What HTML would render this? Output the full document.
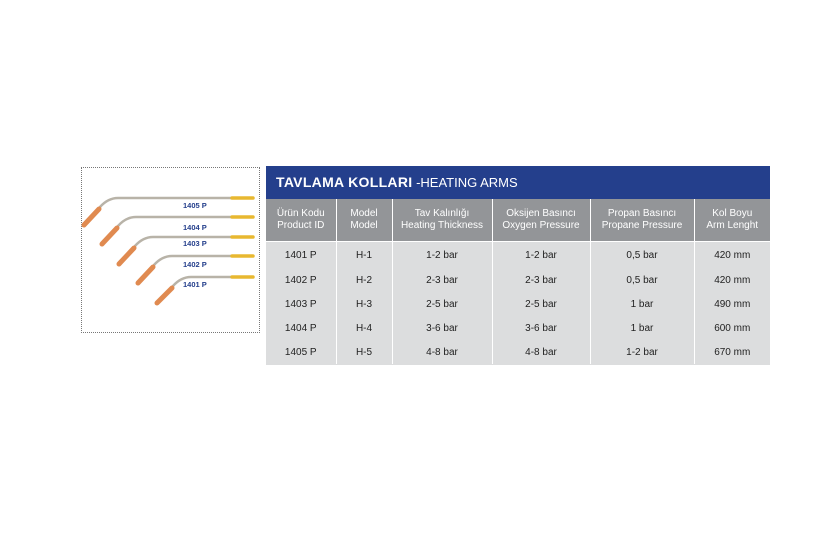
<!DOCTYPE html>
<html><head><meta charset="utf-8"><style>
body{margin:0;width:827px;height:557px;background:#fff;position:relative;font-family:"Liberation Sans",sans-serif;overflow:hidden}
.box{position:absolute;left:81px;top:167px;width:179px;height:166px;border:1px dotted #777;box-sizing:border-box}
.t{position:absolute;left:266px;top:166px;width:504px;height:199px;overflow:hidden;background:#dcddde}
.title{height:33px;background:#243f8c;color:#fff;line-height:33px;padding-left:10px;font-size:13px;box-sizing:border-box}
.title b{font-size:14px;letter-spacing:0.3px}
table{border-collapse:collapse;width:504px;table-layout:fixed}
th{background:#939598;color:#fff;font-weight:normal;font-size:10px;height:42px;border-left:1px solid #fff;border-bottom:1px solid #fff;line-height:12px;padding:0}
td{background:#dcddde;font-size:10px;text-align:center;height:24px;border-left:1px solid #fff;padding:0;color:#222}
tr>*:first-child{border-left:none}
</style></head><body>
<div class="box"></div>
<svg style="position:absolute;left:0;top:0" width="270" height="340">
<g font-family="Liberation Sans" font-size="7.5" font-weight="bold" fill="#243f8c">
<text x="183" y="208">1405 P</text><text x="183" y="230">1404 P</text><text x="183" y="246">1403 P</text><text x="183" y="267">1402 P</text><text x="183" y="287">1401 P</text>
</g>
<g stroke-linecap="round" fill="none">
<path d="M100 207 Q108 198 118 198 L232 198" stroke="#b8b3a8" stroke-width="2.5"/>
<path d="M118 226 Q126 217 136 217 L232 217" stroke="#b8b3a8" stroke-width="2.5"/>
<path d="M135 246 Q143 237 153 237 L232 237" stroke="#b8b3a8" stroke-width="2.5"/>
<path d="M154 265 Q162 256 172 256 L232 256" stroke="#b8b3a8" stroke-width="2.5"/>
<path d="M173 286 Q181 277 191 277 L232 277" stroke="#b8b3a8" stroke-width="2.5"/>
<g stroke="#e8b830" stroke-width="3.5"><path d="M232 198 L253 198"/><path d="M232 217 L253 217"/><path d="M232 237 L253 237"/><path d="M232 256 L253 256"/><path d="M232 277 L253 277"/></g>
<g stroke="#e08a50" stroke-width="5"><path d="M84 225 L99 209"/><path d="M102 244 L117 228"/><path d="M119 264 L134 248"/><path d="M138 283 L153 267"/><path d="M157 303 L172 288"/></g>
</g>
</svg>
<div class="t">
<div class="title"><b>TAVLAMA KOLLARI</b> -HEATING ARMS</div>
<table>
<colgroup><col style="width:70px"><col style="width:56px"><col style="width:100px"><col style="width:98px"><col style="width:104px"><col style="width:76px"></colgroup>
<thead><tr><th>Ürün Kodu<br>Product ID</th><th>Model<br>Model</th><th>Tav Kalınlığı<br>Heating Thickness</th><th>Oksijen Basıncı<br>Oxygen Pressure</th><th>Propan Basıncı<br>Propane Pressure</th><th>Kol Boyu<br>Arm Lenght</th></tr></thead>
<tbody>
<tr><td style="height:26px">1401 P</td><td>H-1</td><td>1-2 bar</td><td>1-2 bar</td><td>0,5 bar</td><td>420 mm</td></tr>
<tr><td>1402 P</td><td>H-2</td><td>2-3 bar</td><td>2-3 bar</td><td>0,5 bar</td><td>420 mm</td></tr>
<tr><td>1403 P</td><td>H-3</td><td>2-5 bar</td><td>2-5 bar</td><td>1 bar</td><td>490 mm</td></tr>
<tr><td>1404 P</td><td>H-4</td><td>3-6 bar</td><td>3-6 bar</td><td>1 bar</td><td>600 mm</td></tr>
<tr><td>1405 P</td><td>H-5</td><td>4-8 bar</td><td>4-8 bar</td><td>1-2 bar</td><td>670 mm</td></tr>
</tbody></table>
</div>
</body></html>
